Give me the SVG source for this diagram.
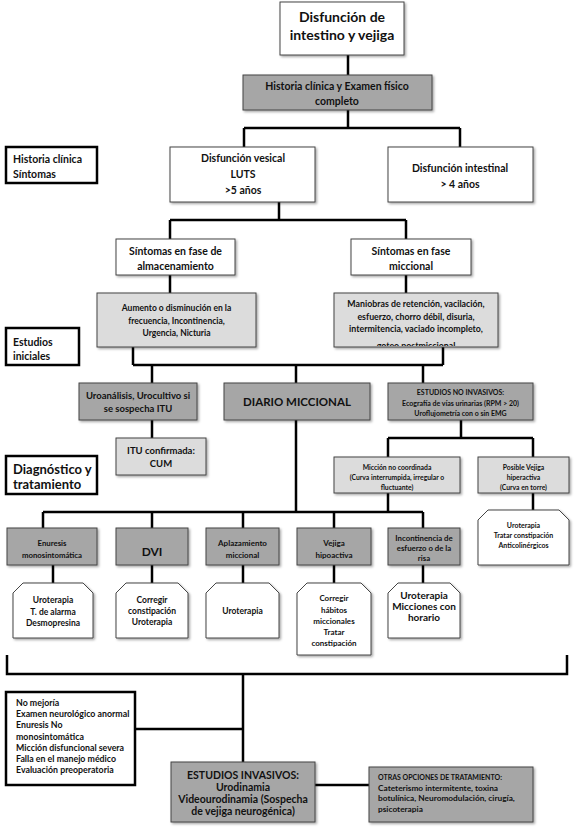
<svg xmlns="http://www.w3.org/2000/svg" width="577" height="833" viewBox="0 0 577 833">
<defs>
<style>
text{font-family:Lato,"Liberation Sans",sans-serif;font-weight:bold;fill:#111;}
.c{text-anchor:middle;}
.w{fill:#fff;stroke:#444;stroke-width:1;}
.d{fill:#a6a6a6;stroke:#444;stroke-width:1;}
.l{fill:#dcdcdc;stroke:#444;stroke-width:1;}
.lab{fill:#fff;stroke:#000;stroke-width:2.5;}
.ln{fill:none;stroke:#000;stroke-width:2.5;}
</style>
<filter id="sh" x="-10%" y="-10%" width="130%" height="140%">
<feDropShadow dx="1.5" dy="1.5" stdDeviation="0.8" flood-color="#000" flood-opacity="0.35"/>
</filter>
<clipPath id="clipMan"><rect x="334" y="293" width="164" height="53"/></clipPath>
</defs>
<rect width="577" height="833" fill="#fff"/>

<g id="connectors">
<path class="ln" d="M348,55V75M348,110V128M244,128H460M244,128V147M460,128V147"/>
<path class="ln" d="M279,202V220M170,220H406M170,220V239M406,220V239"/>
<path class="ln" d="M170,275V293M406,275V293"/>
<path class="ln" d="M133,347V365M443,347V365M133,365H443M152,365V383M296,365V383M423,365V383"/>
<path class="ln" d="M152,420V438M296,420V512M461,420V438M388,438H533M388,438V457M533,438V457"/>
<path class="ln" d="M388,493V512M533,493V510"/>
<path class="ln" d="M43,512H423M43,512V528M152,512V528M243,512V528M334,512V528M423,512V528"/>
<path class="ln" d="M53,565V583M152,565V583M243,565V583M334,565V583M423,565V583"/>
<path class="ln" d="M7,655V674H567V655"/>
<path class="ln" d="M243,674V762M135,729H243M315,785H369"/>
</g>

<g id="n-top"><rect class="w" x="280" y="2" width="124" height="53" filter="url(#sh)"/>
<text class="c" x="342" y="22" font-size="14">Disfunción de</text>
<text class="c" x="342" y="40" font-size="14">intestino y vejiga</text></g>

<g id="n-historia"><rect class="d" x="243" y="75" width="189" height="35" filter="url(#sh)"/>
<text class="c" x="337" y="90" font-size="10.5">Historia clínica y Examen físico</text>
<text class="c" x="337" y="105" font-size="10.5">completo</text></g>

<g id="lab-historia"><rect class="lab" x="6" y="147" width="91" height="36"/>
<text x="13" y="163" font-size="10.5">Historia clínica</text>
<text x="13" y="178" font-size="10.5">Síntomas</text></g>

<g id="n-vesical"><rect class="w" x="170" y="147" width="145" height="55" filter="url(#sh)"/>
<text class="c" x="243" y="162" font-size="10.5">Disfunción vesical</text>
<text class="c" x="243" y="178" font-size="10.5">LUTS</text>
<text class="c" x="243" y="194" font-size="10.5">&gt;5 años</text></g>

<g id="n-intestinal"><rect class="w" x="388" y="147" width="145" height="55" filter="url(#sh)"/>
<text class="c" x="460" y="172" font-size="10.5">Disfunción intestinal</text>
<text class="c" x="460" y="188" font-size="10.5">&gt; 4 años</text></g>

<g id="n-almac"><rect class="w" x="116" y="239" width="119" height="36" filter="url(#sh)"/>
<text class="c" x="175.5" y="255" font-size="10.5">Síntomas en fase de</text>
<text class="c" x="175.5" y="270" font-size="10.5">almacenamiento</text></g>

<g id="n-miccional"><rect class="w" x="351" y="239" width="120" height="36" filter="url(#sh)"/>
<text class="c" x="411" y="255" font-size="10.5">Síntomas en fase</text>
<text class="c" x="411" y="270" font-size="10.5">miccional</text></g>

<g id="n-aumento"><rect class="l" x="97" y="293" width="159" height="54" filter="url(#sh)"/>
<text class="c" x="176.5" y="311" font-size="8.5">Aumento o disminución en la</text>
<text class="c" x="176.5" y="324" font-size="8.5">frecuencia, Incontinencia,</text>
<text class="c" x="176.5" y="336" font-size="8.5">Urgencia, Nicturia</text></g>

<g id="n-maniobras"><rect class="l" x="334" y="293" width="164" height="54" filter="url(#sh)"/>
<g clip-path="url(#clipMan)">
<text class="c" x="416" y="307" font-size="8.8">Maniobras de retención, vacilación,</text>
<text class="c" x="416" y="320" font-size="8.8">esfuerzo, chorro débil, disuria,</text>
<text class="c" x="416" y="332" font-size="8.8">intermitencia, vaciado incompleto,</text>
<text class="c" x="416" y="349" font-size="8.8">goteo postmiccional</text></g></g>

<g id="lab-estudios"><rect class="lab" x="6" y="328" width="73" height="37"/>
<text x="13" y="346" font-size="10.5">Estudios</text>
<text x="13" y="360" font-size="10.5">iniciales</text></g>

<g id="n-uroanalisis"><rect class="d" x="79" y="383" width="118" height="37" filter="url(#sh)"/>
<text class="c" x="138" y="399" font-size="9.5">Uroanálisis, Urocultivo si</text>
<text class="c" x="138" y="412" font-size="9.5">se sospecha ITU</text></g>

<g id="n-diario"><rect class="d" x="224" y="383" width="146" height="37" filter="url(#sh)"/>
<text class="c" x="297" y="406" font-size="11.5">DIARIO MICCIONAL</text></g>

<g id="n-noinv"><rect class="d" x="388" y="383" width="145" height="37" filter="url(#sh)"/>
<text class="c" x="460.5" y="395" font-size="7">ESTUDIOS NO INVASIVOS:</text>
<text class="c" x="460.5" y="405.5" font-size="7">Ecografía de vías urinarias (RPM &gt; 20)</text>
<text class="c" x="460.5" y="416" font-size="7">Uroflujometría con o sin EMG</text></g>

<g id="n-itu"><rect class="l" x="116" y="438" width="90" height="37" filter="url(#sh)"/>
<text class="c" x="161" y="454" font-size="9.5">ITU confirmada:</text>
<text class="c" x="161" y="467" font-size="9.5">CUM</text></g>

<g id="lab-diag"><rect class="lab" x="6" y="456" width="91" height="38"/>
<text x="13" y="474" font-size="13">Diagnóstico y</text>
<text x="13" y="489" font-size="13">tratamiento</text></g>

<g id="n-miccion"><rect class="l" x="334" y="457" width="126" height="36" filter="url(#sh)"/>
<text class="c" x="397" y="470" font-size="6.8">Micción no coordinada</text>
<text class="c" x="397" y="480" font-size="6.8">(Curva interrumpida, irregular o</text>
<text class="c" x="397" y="490" font-size="6.8">fluctuante)</text></g>

<g id="n-posible"><rect class="l" x="478" y="457" width="91" height="36" filter="url(#sh)"/>
<text class="c" x="523.5" y="470" font-size="6.8">Posible Vejiga</text>
<text class="c" x="523.5" y="480" font-size="6.8">hiperactiva</text>
<text class="c" x="523.5" y="490" font-size="6.8">(Curva en torre)</text></g>

<g id="n-posible-tx"><path class="w" d="M478,520L488,510H559L569,520V565H478Z" filter="url(#sh)"/>
<text class="c" x="523.5" y="528" font-size="7">Uroterapia</text>
<text class="c" x="523.5" y="538" font-size="7">Tratar constipación</text>
<text class="c" x="523.5" y="548" font-size="7">Anticolinérgicos</text></g>

<g id="n-enuresis"><rect class="d" x="7" y="528" width="90" height="37" filter="url(#sh)"/>
<text class="c" x="52" y="546" font-size="7.8">Enuresis</text>
<text class="c" x="52" y="558" font-size="7.8">monosintomática</text></g>

<g id="n-dvi"><rect class="d" x="116" y="528" width="72" height="37" filter="url(#sh)"/>
<text class="c" x="152" y="556" font-size="12">DVI</text></g>

<g id="n-aplaz"><rect class="d" x="206" y="528" width="73" height="37" filter="url(#sh)"/>
<text class="c" x="242.5" y="546" font-size="8">Aplazamiento</text>
<text class="c" x="242.5" y="558" font-size="8">miccional</text></g>

<g id="n-vejiga"><rect class="d" x="297" y="528" width="74" height="37" filter="url(#sh)"/>
<text class="c" x="334" y="546" font-size="8">Vejiga</text>
<text class="c" x="334" y="558" font-size="8">hipoactiva</text></g>

<g id="n-incont"><rect class="d" x="388" y="528" width="72" height="37" filter="url(#sh)"/>
<text class="c" x="424" y="541" font-size="7.8">Incontinencia de</text>
<text class="c" x="424" y="551" font-size="7.8">esfuerzo o de la</text>
<text class="c" x="424" y="561" font-size="7.8">risa</text></g>

<g id="n-enuresis-tx"><path class="w" d="M13,593L23,583H83L93,593V638H13Z" filter="url(#sh)"/>
<text class="c" x="53" y="603" font-size="8.5">Uroterapia</text>
<text class="c" x="53" y="615" font-size="8.5">T. de alarma</text>
<text class="c" x="53" y="626" font-size="8.5">Desmopresina</text></g>

<g id="n-dvi-tx"><path class="w" d="M116,593L126,583H178L188,593V638H116Z" filter="url(#sh)"/>
<text class="c" x="152" y="603" font-size="8.5">Corregir</text>
<text class="c" x="152" y="614" font-size="8.5">constipación</text>
<text class="c" x="152" y="625" font-size="8.5">Uroterapia</text></g>

<g id="n-aplaz-tx"><path class="w" d="M206,593L216,583H269L279,593V638H206Z" filter="url(#sh)"/>
<text class="c" x="242.5" y="614" font-size="8.5">Uroterapia</text></g>

<g id="n-vejiga-tx"><path class="w" d="M297,593L307,583H361L371,593V655H297Z" filter="url(#sh)"/>
<text class="c" x="334" y="601" font-size="8">Corregir</text>
<text class="c" x="334" y="613" font-size="8">hábitos</text>
<text class="c" x="334" y="624" font-size="8">miccionales</text>
<text class="c" x="334" y="635" font-size="8">Tratar</text>
<text class="c" x="334" y="646" font-size="8">constipación</text></g>

<g id="n-incont-tx"><path class="w" d="M388,593L398,583H450L460,593V638H388Z" filter="url(#sh)"/>
<text class="c" x="424" y="599" font-size="10">Uroterapia</text>
<text class="c" x="424" y="610" font-size="10">Micciones con</text>
<text class="c" x="424" y="621" font-size="10">horario</text></g>

<g id="n-nomejoria"><rect class="lab" x="6" y="692" width="129" height="93"/>
<text x="16" y="706" font-size="8.8">No mejoría</text>
<text x="16" y="717" font-size="8.8">Examen neurológico anormal</text>
<text x="16" y="728" font-size="8.8">Enuresis No</text>
<text x="16" y="740" font-size="8.8">monosintomática</text>
<text x="16" y="751" font-size="8.8">Micción disfuncional severa</text>
<text x="16" y="762" font-size="8.8">Falla en el manejo médico</text>
<text x="16" y="773" font-size="8.8">Evaluación preoperatoria</text></g>

<g id="n-invasivos"><rect class="d" x="171" y="762" width="144" height="60" filter="url(#sh)"/>
<text class="c" x="243" y="779" font-size="10.5">ESTUDIOS INVASIVOS:</text>
<text class="c" x="243" y="791" font-size="10.5">Urodinamia</text>
<text class="c" x="243" y="803" font-size="10.5">Videourodinamia (Sospecha</text>
<text class="c" x="243" y="815" font-size="10.5">de vejiga neurogénica)</text></g>

<g id="n-otras"><rect class="d" x="369" y="767" width="164" height="55" filter="url(#sh)"/>
<text x="378" y="780" font-size="7">OTRAS OPCIONES DE TRATAMIENTO:</text>
<text x="378" y="791" font-size="8.3">Cateterismo intermitente, toxina</text>
<text x="378" y="801" font-size="8.3">botulínica, Neuromodulación, cirugía,</text>
<text x="378" y="812" font-size="8.3">psicoterapia</text></g>
</svg>
